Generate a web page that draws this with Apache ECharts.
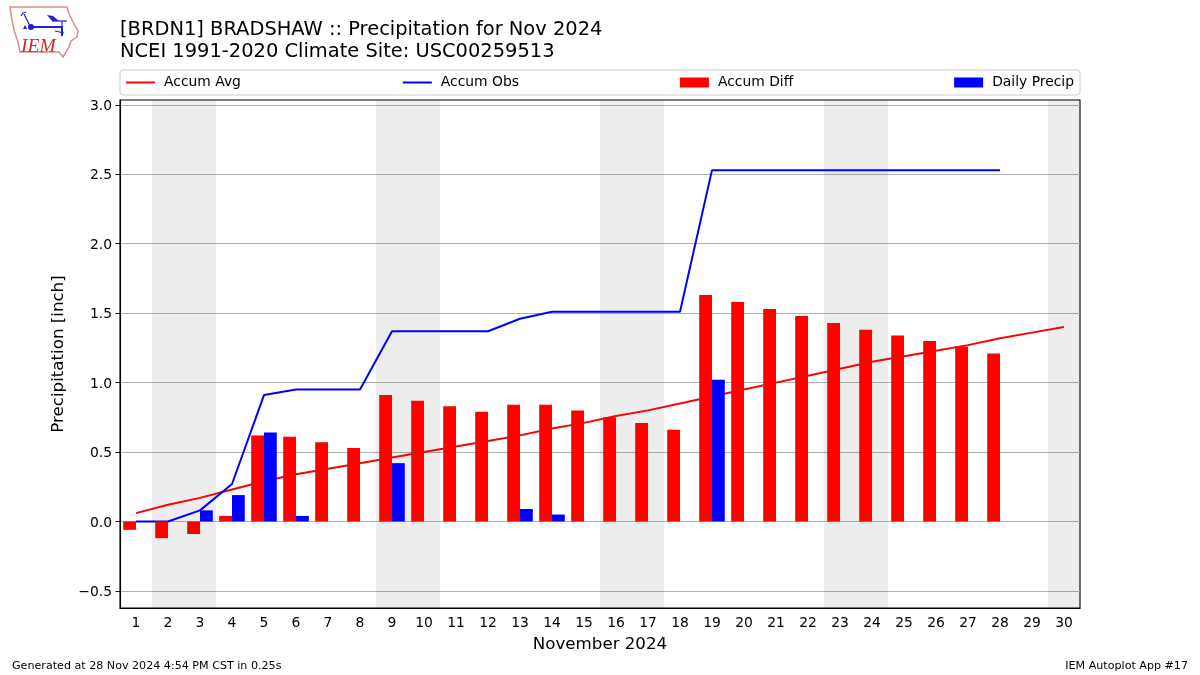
<!DOCTYPE html>
<html><head><meta charset="utf-8">
<style>html,body{margin:0;padding:0;background:#fff}#c{width:1200px;height:675px}</style>
<script src="https://cdn.jsdelivr.net/npm/echarts@6/dist/echarts.min.js"></script>
</head><body><div id="c"></div>
<script>
const days = Array.from({length:30},(_,i)=>String(i+1));
const accumAvg = [0.06,0.12,0.17,0.23,0.29,0.34,0.38,0.42,0.46,0.50,0.54,0.58,0.62,0.67,0.71,0.76,0.80,0.85,0.90,0.95,1.00,1.05,1.10,1.15,1.19,1.23,1.27,1.32,1.36,1.40];
const accumObs = [0,0,0.08,0.27,0.91,0.95,0.95,0.95,1.37,1.37,1.37,1.37,1.46,1.51,1.51,1.51,1.51,1.51,2.53,2.53,2.53,2.53,2.53,2.53,2.53,2.53,2.53,2.53,null,null];
const accumDiff = [-0.06,-0.12,-0.09,0.04,0.62,0.61,0.57,0.53,0.91,0.87,0.83,0.79,0.84,0.84,0.80,0.75,0.71,0.66,1.63,1.58,1.53,1.48,1.43,1.38,1.34,1.30,1.26,1.21,null,null];
const dailyPrecip = [0,0,0.08,0.19,0.64,0.04,0,0,0.42,0,0,0,0.09,0.05,0,0,0,0,1.02,0,0,0,0,0,0,0,0,0,null,null];
const weekendDays = [2,3,9,10,16,17,23,24,30];
const yTicks = [-0.5,0,0.5,1,1.5,2,2.5,3];
const bands = days.map(d=>weekendDays.includes(+d)?1:null);
const FONT='DejaVu Sans';
const BLUE='#2020dd';
const chart = echarts.init(document.getElementById('c'),null,{renderer:'canvas'});
chart.setOption({
  animation:false,
  textStyle:{fontFamily:FONT,color:'#000'},
  title:[
    {text:'[BRDN1] BRADSHAW :: Precipitation for Nov 2024\nNCEI 1991-2020 Climate Site: USC00259513',left:120,top:19,padding:0,textStyle:{fontFamily:FONT,fontSize:19.44,fontWeight:'normal',lineHeight:22,color:'#000'}},
    {text:'Generated at 28 Nov 2024 4:54 PM CST in 0.25s',left:12,top:661,padding:0,textStyle:{fontFamily:FONT,fontSize:11.11,fontWeight:'normal',color:'#000'}},
    {text:'IEM Autoplot App #17',right:12,top:661,padding:0,textStyle:{fontFamily:FONT,fontSize:11.11,fontWeight:'normal',color:'#000'}}
  ],
  legend:{
    left:120,top:70,padding:[5.5,6,5.5,5],itemGap:160.9,itemWidth:29,itemHeight:10,
    borderColor:'#ccc',borderWidth:1,borderRadius:3,backgroundColor:'#fff',
    textStyle:{fontFamily:FONT,fontSize:13.89,color:'#000',padding:[0,0,0,4]},
    data:[{name:'Accum Avg',itemStyle:{opacity:0}},{name:'Accum Obs',itemStyle:{opacity:0}},{name:'Accum Diff',icon:'rect'},{name:'Daily Precip',icon:'rect'}]
  },
  grid:{left:120,top:100,width:960,height:508,show:true,borderColor:'#000',borderWidth:1.1,backgroundColor:'transparent',containLabel:false},
  xAxis:[
    {type:'category',data:days,boundaryGap:true,
     name:'November 2024',nameLocation:'middle',nameGap:28,nameTextStyle:{fontFamily:FONT,fontSize:16.67,color:'#000'},
     axisLine:{onZero:false,lineStyle:{color:'#000',width:1.1}},
     axisTick:{alignWithLabel:true,length:4.5,lineStyle:{color:'#000',width:1.1}},
     axisLabel:{fontFamily:FONT,fontSize:13.89,color:'#000',margin:8,interval:0}},
    {type:'category',data:days,show:false,boundaryGap:true,gridIndex:0}
  ],
  yAxis:[
    {type:'value',min:-0.623,max:3.035,
     name:'Precipitation [inch]',nameLocation:'middle',nameGap:46,nameTextStyle:{fontFamily:FONT,fontSize:16.67,color:'#000'},
     axisLine:{show:true,lineStyle:{color:'#000',width:1.1}},
     axisTick:{show:true,length:4.5,lineStyle:{color:'#000',width:1.1},customValues:yTicks},
     axisLabel:{fontFamily:FONT,fontSize:13.89,color:'#000',margin:8,customValues:yTicks,
       rich:{t:{fontFamily:FONT,fontSize:13.89,color:'#000',padding:[3,0,0,0]}},
       formatter:v=>'{t|'+v.toFixed(1).replace('-','\u2212')+'}'},
     splitLine:{show:true,lineStyle:{color:'#b0b0b0',width:1.1}}},
    {type:'value',min:0,max:1,show:false,gridIndex:0}
  ],
  series:[
    {name:'bands',type:'bar',xAxisIndex:1,yAxisIndex:1,data:bands,barWidth:32,silent:true,z:1,
     itemStyle:{color:'rgba(0,0,0,0.07)'}},
    {name:'Accum Avg',type:'line',data:accumAvg,showSymbol:false,symbol:'none',z:2,lineStyle:{color:'#ff0000',width:2},itemStyle:{color:'#ff0000'}},
    {name:'Accum Obs',type:'line',data:accumObs,showSymbol:false,symbol:'none',z:2,lineStyle:{color:'#0000ff',width:2},itemStyle:{color:'#0000ff'}},
    {name:'Accum Diff',type:'bar',data:accumDiff,barWidth:12.8,barGap:0,z:3,itemStyle:{color:'#ff0000'}},
    {name:'Daily Precip',type:'bar',data:dailyPrecip,barWidth:12.8,barGap:0,z:3,itemStyle:{color:'#0000ff'}}
  ],
  graphic:[
    {type:'polygon',z:10,shape:{points:[[10,7],[67,7],[69,14],[74,24],[78,31],[77,37],[71,41],[69,47],[66,52],[63,57],[59,52],[20,52],[18,42],[14,30],[12,20]]},style:{fill:'#fff',stroke:'#e08a8a',lineWidth:1.5}},
    {type:'polyline',z:11,shape:{points:[[30,27],[62,27],[62,36]]},style:{fill:null,stroke:BLUE,lineWidth:2}},
    {type:'polyline',z:11,shape:{points:[[30,26],[24,14]]},style:{fill:null,stroke:BLUE,lineWidth:1.2}},
    {type:'polyline',z:11,shape:{points:[[21,16],[23,13],[26,12]]},style:{fill:null,stroke:BLUE,lineWidth:1.2}},
    {type:'polygon',z:11,shape:{points:[[47,15],[53,16],[59,21],[52,21]]},style:{fill:BLUE}},
    {type:'line',z:11,shape:{x1:52,y1:21,x2:67,y2:21},style:{stroke:BLUE,lineWidth:1.2}},
    {type:'line',z:11,shape:{x1:62,y1:21,x2:62,y2:27},style:{stroke:BLUE,lineWidth:1.2}},
    {type:'polyline',z:11,shape:{points:[[55,31],[64,33]]},style:{fill:null,stroke:BLUE,lineWidth:1.2}},
    {type:'circle',z:11,shape:{cx:31,cy:27,r:3},style:{fill:BLUE}},
    {type:'polygon',z:11,shape:{points:[[23,29],[25,25],[27,29]]},style:{fill:BLUE}},
    {type:'text',z:11,left:21,top:37,style:{text:'IEM',fontFamily:'Liberation Serif',fontStyle:'italic',fontSize:19.5,fill:'#d02a2a'}}
  ]
});
</script></body></html>
